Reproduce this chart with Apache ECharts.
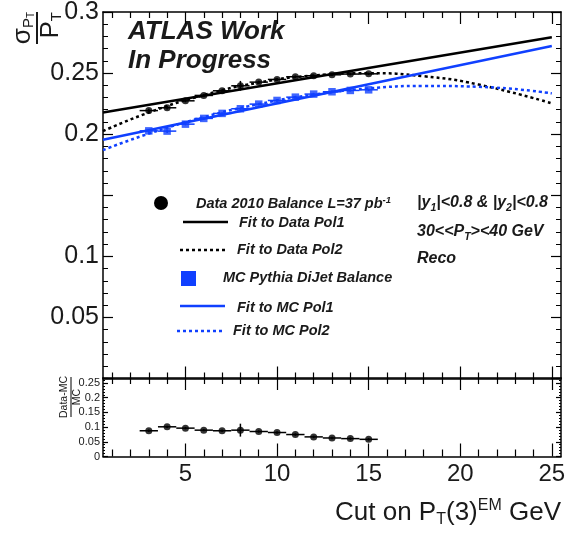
<!DOCTYPE html>
<html><head><meta charset="utf-8">
<script src="https://cdn.jsdelivr.net/npm/echarts@6/dist/echarts.min.js"></script>
<style>html,body{margin:0;padding:0;background:#fff}#c{width:565px;height:539px}</style>
</head><body><div id="c"></div>
<script>
// ---- data ----
const cutValues      = [3, 4, 5, 6, 7, 8, 9, 10, 11, 12, 13, 14, 15];
const binHalfWidth   = [0.5, 0.5, 0.5, 0.5, 0.5, 0.5, 0.5, 0.5, 0.5, 0.5, 0.5, 0.5, 0.5];
const dataBalance    = [0.2193, 0.2216, 0.2273, 0.2317, 0.2355, 0.2396, 0.2426, 0.2448, 0.2470, 0.2478, 0.2486, 0.2492, 0.2494];
const dataBalanceErr = [0.0015, 0.0015, 0.0012, 0.0012, 0.0012, 0.0040, 0.0012, 0.0010, 0.0010, 0.0010, 0.0010, 0.0010, 0.0010];
const mcBalance      = [0.2027, 0.2025, 0.2082, 0.2129, 0.2170, 0.2208, 0.2246, 0.2276, 0.2303, 0.2328, 0.2347, 0.2358, 0.2363];
const mcBalanceErr   = [0.0015, 0.0015, 0.0010, 0.0010, 0.0010, 0.0010, 0.0010, 0.0010, 0.0010, 0.0010, 0.0010, 0.0010, 0.0010];
const ratioValues    = [0.0875, 0.1010, 0.0965, 0.0896, 0.0875, 0.0896, 0.0850, 0.0816, 0.0747, 0.0667, 0.0630, 0.0608, 0.0584];
const ratioErr       = [0.004, 0.004, 0.004, 0.004, 0.004, 0.022, 0.004, 0.004, 0.004, 0.004, 0.004, 0.004, 0.004];
const pol1X   = [0.5, 25];
const dataPol1 = [0.2178, 0.2794];
const mcPol1   = [0.1955, 0.2721];
const pol2X    = [0.5, 3, 6, 9, 12, 15, 18, 21, 25];
const dataPol2 = [0.2025, 0.2177, 0.2320, 0.2422, 0.2481, 0.2499, 0.2474, 0.2406, 0.2252];
const mcPol2   = [0.1870, 0.2004, 0.2139, 0.2246, 0.2324, 0.2374, 0.2395, 0.2388, 0.2334];
const xMajorTicks = [5, 10, 15, 20, 25];
const xMinorTicks = [1, 2, 3, 4, 6, 7, 8, 9, 11, 12, 13, 14, 16, 17, 18, 19, 21, 22, 23, 24];
const mainYHiddenLabels = [0, 0.15];

// ---- styling ----
const BLUE = '#1040ff';
const INK = '#1a1a1a';
const FONT = '"Liberation Sans", Arial, Helvetica, sans-serif';
const zip = (xs, ys) => xs.map((x, i) => [x, ys[i]]);
const errData = (ys, es) => cutValues.map((x, i) => [x, ys[i], binHalfWidth[i], es[i]]);

function errRender(color, lw) {
  return function (params, api) {
    const x = api.value(0), y = api.value(1), ex = api.value(2), ey = api.value(3);
    const l = api.coord([x - ex, y]), r = api.coord([x + ex, y]);
    const t = api.coord([x, y + ey]), b = api.coord([x, y - ey]);
    return { type: 'group', children: [
      { type: 'line', shape: { x1: l[0], y1: l[1], x2: r[0], y2: r[1] }, style: { stroke: color, lineWidth: lw } },
      { type: 'line', shape: { x1: t[0], y1: t[1], x2: b[0], y2: b[1] }, style: { stroke: color, lineWidth: lw } }
    ]};
  };
}

function xAx(grid, pos, ticks, len, withLine, withLabel) {
  return {
    type: 'value', gridIndex: grid, position: pos, min: 0.5, max: 25.5,
    axisLine: { show: withLine, lineStyle: { color: '#000', width: 1.5 } },
    axisTick: { show: true, inside: true, length: len, customValues: ticks, lineStyle: { color: '#000', width: 1.2 } },
    axisLabel: withLabel ? { show: true, customValues: xMajorTicks, fontSize: 24, fontFamily: FONT, color: INK, margin: 6 } : { show: false },
    splitLine: { show: false }
  };
}
function yAx(grid, pos, max, label, lab) {
  const big = grid === 0;
  return {
    type: 'value', gridIndex: grid, position: pos, min: 0, max: max, interval: 0.05,
    axisLine: { show: true, lineStyle: { color: '#000', width: 1.5 } },
    axisTick: { show: true, inside: true, length: big ? 10 : 5, lineStyle: { color: '#000', width: 1.2 } },
    minorTick: { show: true, splitNumber: 5, length: big ? 5 : 2, lineStyle: { color: '#000', width: 1 } },
    axisLabel: label ? Object.assign({ show: true, fontFamily: FONT, color: INK }, lab) : { show: false },
    splitLine: { show: false }, minorSplitLine: { show: false }
  };
}

function txt(x, y, text, rich, extra) {
  return Object.assign({ type: 'text', x: x, y: y, style: Object.assign({ text: text, rich: rich, fill: INK,
    align: 'left', verticalAlign: 'middle', textAlign: 'left', textVerticalAlign: 'middle' }, extra || {}) });
}
const bi = (s) => ({ fontSize: s, fontWeight: 'bold', fontStyle: 'italic', fontFamily: FONT, color: INK });
const rg = (s) => ({ fontSize: s, fontFamily: FONT, color: INK });
function legLine(x1, x2, y, color, dashed) {
  return { type: 'line', shape: { x1: x1, y1: y, x2: x2, y2: y },
    style: { stroke: color, lineWidth: 2.5, lineDash: dashed ? [3, 3] : null } };
}

const option = {
  animation: false,
  backgroundColor: '#fff',
  grid: [
    { left: 103, top: 12, width: 458, height: 366.5, containLabel: false, outerBoundsMode: 'none' },
    { left: 103, top: 378, width: 458, height: 78.5, containLabel: false, outerBoundsMode: 'none' }
  ],
  xAxis: [
    xAx(0, 'bottom', xMajorTicks, 12, true, false),
    xAx(0, 'bottom', xMinorTicks, 6, false, false),
    xAx(0, 'top', xMajorTicks, 12, true, false),
    xAx(0, 'top', xMinorTicks, 6, false, false),
    xAx(1, 'bottom', xMajorTicks, 13, true, true),
    xAx(1, 'bottom', xMinorTicks, 7, false, false),
    xAx(1, 'top', xMajorTicks, 12, true, false),
    xAx(1, 'top', xMinorTicks, 6, false, false)
  ],
  yAxis: [
    yAx(0, 'left', 0.3, true, { fontSize: 25, margin: 4,
      formatter: (v) => mainYHiddenLabels.some((h) => Math.abs(h - v) < 1e-9) ? '' : String(+v.toFixed(2)) }),
    yAx(0, 'right', 0.3, false),
    yAx(1, 'left', 0.267, true, { fontSize: 11, margin: 3, showMaxLabel: false }),
    yAx(1, 'right', 0.267, false)
  ],
  series: [
    { type: 'line', xAxisIndex: 0, yAxisIndex: 0, data: zip(pol1X, dataPol1), showSymbol: false, symbol: 'none',
      lineStyle: { color: '#000', width: 2.5 }, z: 3 },
    { type: 'line', xAxisIndex: 0, yAxisIndex: 0, data: zip(pol2X, dataPol2), showSymbol: false, symbol: 'none', smooth: true,
      lineStyle: { color: '#000', width: 2.5, type: [3, 3] }, z: 3 },
    { type: 'line', xAxisIndex: 0, yAxisIndex: 0, data: zip(pol1X, mcPol1), showSymbol: false, symbol: 'none',
      lineStyle: { color: BLUE, width: 2.5 }, z: 3 },
    { type: 'line', xAxisIndex: 0, yAxisIndex: 0, data: zip(pol2X, mcPol2), showSymbol: false, symbol: 'none', smooth: true,
      lineStyle: { color: BLUE, width: 2.5, type: [3, 3] }, z: 3 },
    { type: 'custom', xAxisIndex: 0, yAxisIndex: 0, data: errData(dataBalance, dataBalanceErr), encode: { x: 0, y: 1 },
      renderItem: errRender('#000', 1.5), z: 4 },
    { type: 'custom', xAxisIndex: 0, yAxisIndex: 0, data: errData(mcBalance, mcBalanceErr), encode: { x: 0, y: 1 },
      renderItem: errRender(BLUE, 1.5), z: 4 },
    { type: 'scatter', xAxisIndex: 0, yAxisIndex: 0, data: zip(cutValues, dataBalance), symbol: 'circle', symbolSize: 7,
      itemStyle: { color: '#000' }, z: 5 },
    { type: 'scatter', xAxisIndex: 0, yAxisIndex: 0, data: zip(cutValues, mcBalance), symbol: 'rect', symbolSize: 7.5,
      itemStyle: { color: BLUE }, z: 5 },
    { type: 'custom', xAxisIndex: 4, yAxisIndex: 2, data: errData(ratioValues, ratioErr), encode: { x: 0, y: 1 },
      renderItem: errRender('#000', 1.5), z: 4 },
    { type: 'scatter', xAxisIndex: 4, yAxisIndex: 2, data: zip(cutValues, ratioValues), symbol: 'circle', symbolSize: 7,
      itemStyle: { color: '#000' }, z: 5 }
  ],
  graphic: [
    txt(128, 32, '{a|ATLAS Work}', { a: bi(26) }),
    txt(128, 61, '{a|In Progress}', { a: bi(26) }),
    // y axis title (rotated fraction)
    { type: 'group', x: 37, y: 12, rotation: Math.PI / 2, children: [
      { type: 'text', x: 0, y: -1, style: { text: '{a|σ}{b|P}{c|T}', rich: { a: rg(26), b: Object.assign(rg(15), { verticalAlign: 'bottom' }), c: Object.assign(rg(10), { verticalAlign: 'bottom' }) },
        fill: INK, align: 'right', verticalAlign: 'bottom', textAlign: 'right', textVerticalAlign: 'bottom' } },
      { type: 'rect', shape: { x: -32, y: -0.9, width: 32, height: 1.8 }, style: { fill: '#000' } },
      { type: 'text', x: 0, y: 1, style: { text: '{a|P}{b|T}', rich: { a: rg(26), b: Object.assign(rg(15), { verticalAlign: 'bottom' }) },
        fill: INK, align: 'right', verticalAlign: 'top', textAlign: 'right', textVerticalAlign: 'top' } }
    ]},
    // lower panel y title
    { type: 'group', x: 71, y: 397, rotation: Math.PI / 2, children: [
      { type: 'text', x: 0, y: -1, style: { text: 'Data-MC', font: '10.5px ' + FONT, fill: INK, align: 'center', verticalAlign: 'bottom', textAlign: 'center', textVerticalAlign: 'bottom' } },
      { type: 'rect', shape: { x: -20, y: -0.5, width: 40, height: 1 }, style: { fill: '#000' } },
      { type: 'text', x: 0, y: 1, style: { text: 'MC', font: '10.5px ' + FONT, fill: INK, align: 'center', verticalAlign: 'top', textAlign: 'center', textVerticalAlign: 'top' } }
    ]},
    // x axis title
    txt(561, 513, '{a|Cut on P}{b|T}{a|(3)}{c|EM}{a| GeV}',
      { a: rg(26), b: Object.assign(rg(16), { verticalAlign: 'bottom', padding: [14, 0, 0, 0] }), c: Object.assign(rg(16), { verticalAlign: 'top', padding: [0, 0, 12, 0] }) },
      { align: 'right', textAlign: 'right' }),
    // legend
    { type: 'circle', shape: { cx: 161, cy: 203, r: 7 }, style: { fill: '#000' } },
    txt(196, 204, '{a|Data 2010 Balance L=37 pb}{s|-1}', { a: bi(14.5), s: Object.assign(bi(9.5), { verticalAlign: 'top', padding: [0, 0, 8, 0] }) }),
    legLine(183, 228, 222, '#000', false),
    txt(239, 223, '{a|Fit to Data Pol1}', { a: bi(14.5) }),
    legLine(180, 226, 250, '#000', true),
    txt(237, 250, '{a|Fit to Data Pol2}', { a: bi(14.5) }),
    { type: 'rect', shape: { x: 181, y: 271, width: 15, height: 15 }, style: { fill: BLUE } },
    txt(223, 278, '{a|MC Pythia DiJet Balance}', { a: bi(14.5) }),
    legLine(180, 225, 306, BLUE, false),
    txt(237, 308, '{a|Fit to MC Pol1}', { a: bi(14.5) }),
    legLine(177, 222, 331, BLUE, true),
    txt(233, 331, '{a|Fit to MC Pol2}', { a: bi(14.5) }),
    // selection text
    txt(417, 203, '{a||y}{s|1}{a||<0.8 & |y}{s|2}{a||<0.8}', { a: bi(16), s: Object.assign(bi(10.5), { verticalAlign: 'bottom', padding: [10, 0, 0, 0] }) }),
    txt(417, 232, '{a|30<<P}{s|T}{a|><40 GeV}', { a: bi(16), s: Object.assign(bi(10.5), { verticalAlign: 'bottom', padding: [10, 0, 0, 0] }) }),
    txt(417, 259, '{a|Reco}', { a: bi(16) })
  ]
};

const chart = echarts.init(document.getElementById('c'), null, { renderer: 'canvas', width: 565, height: 539 });
chart.setOption(option);
</script>
</body></html>
